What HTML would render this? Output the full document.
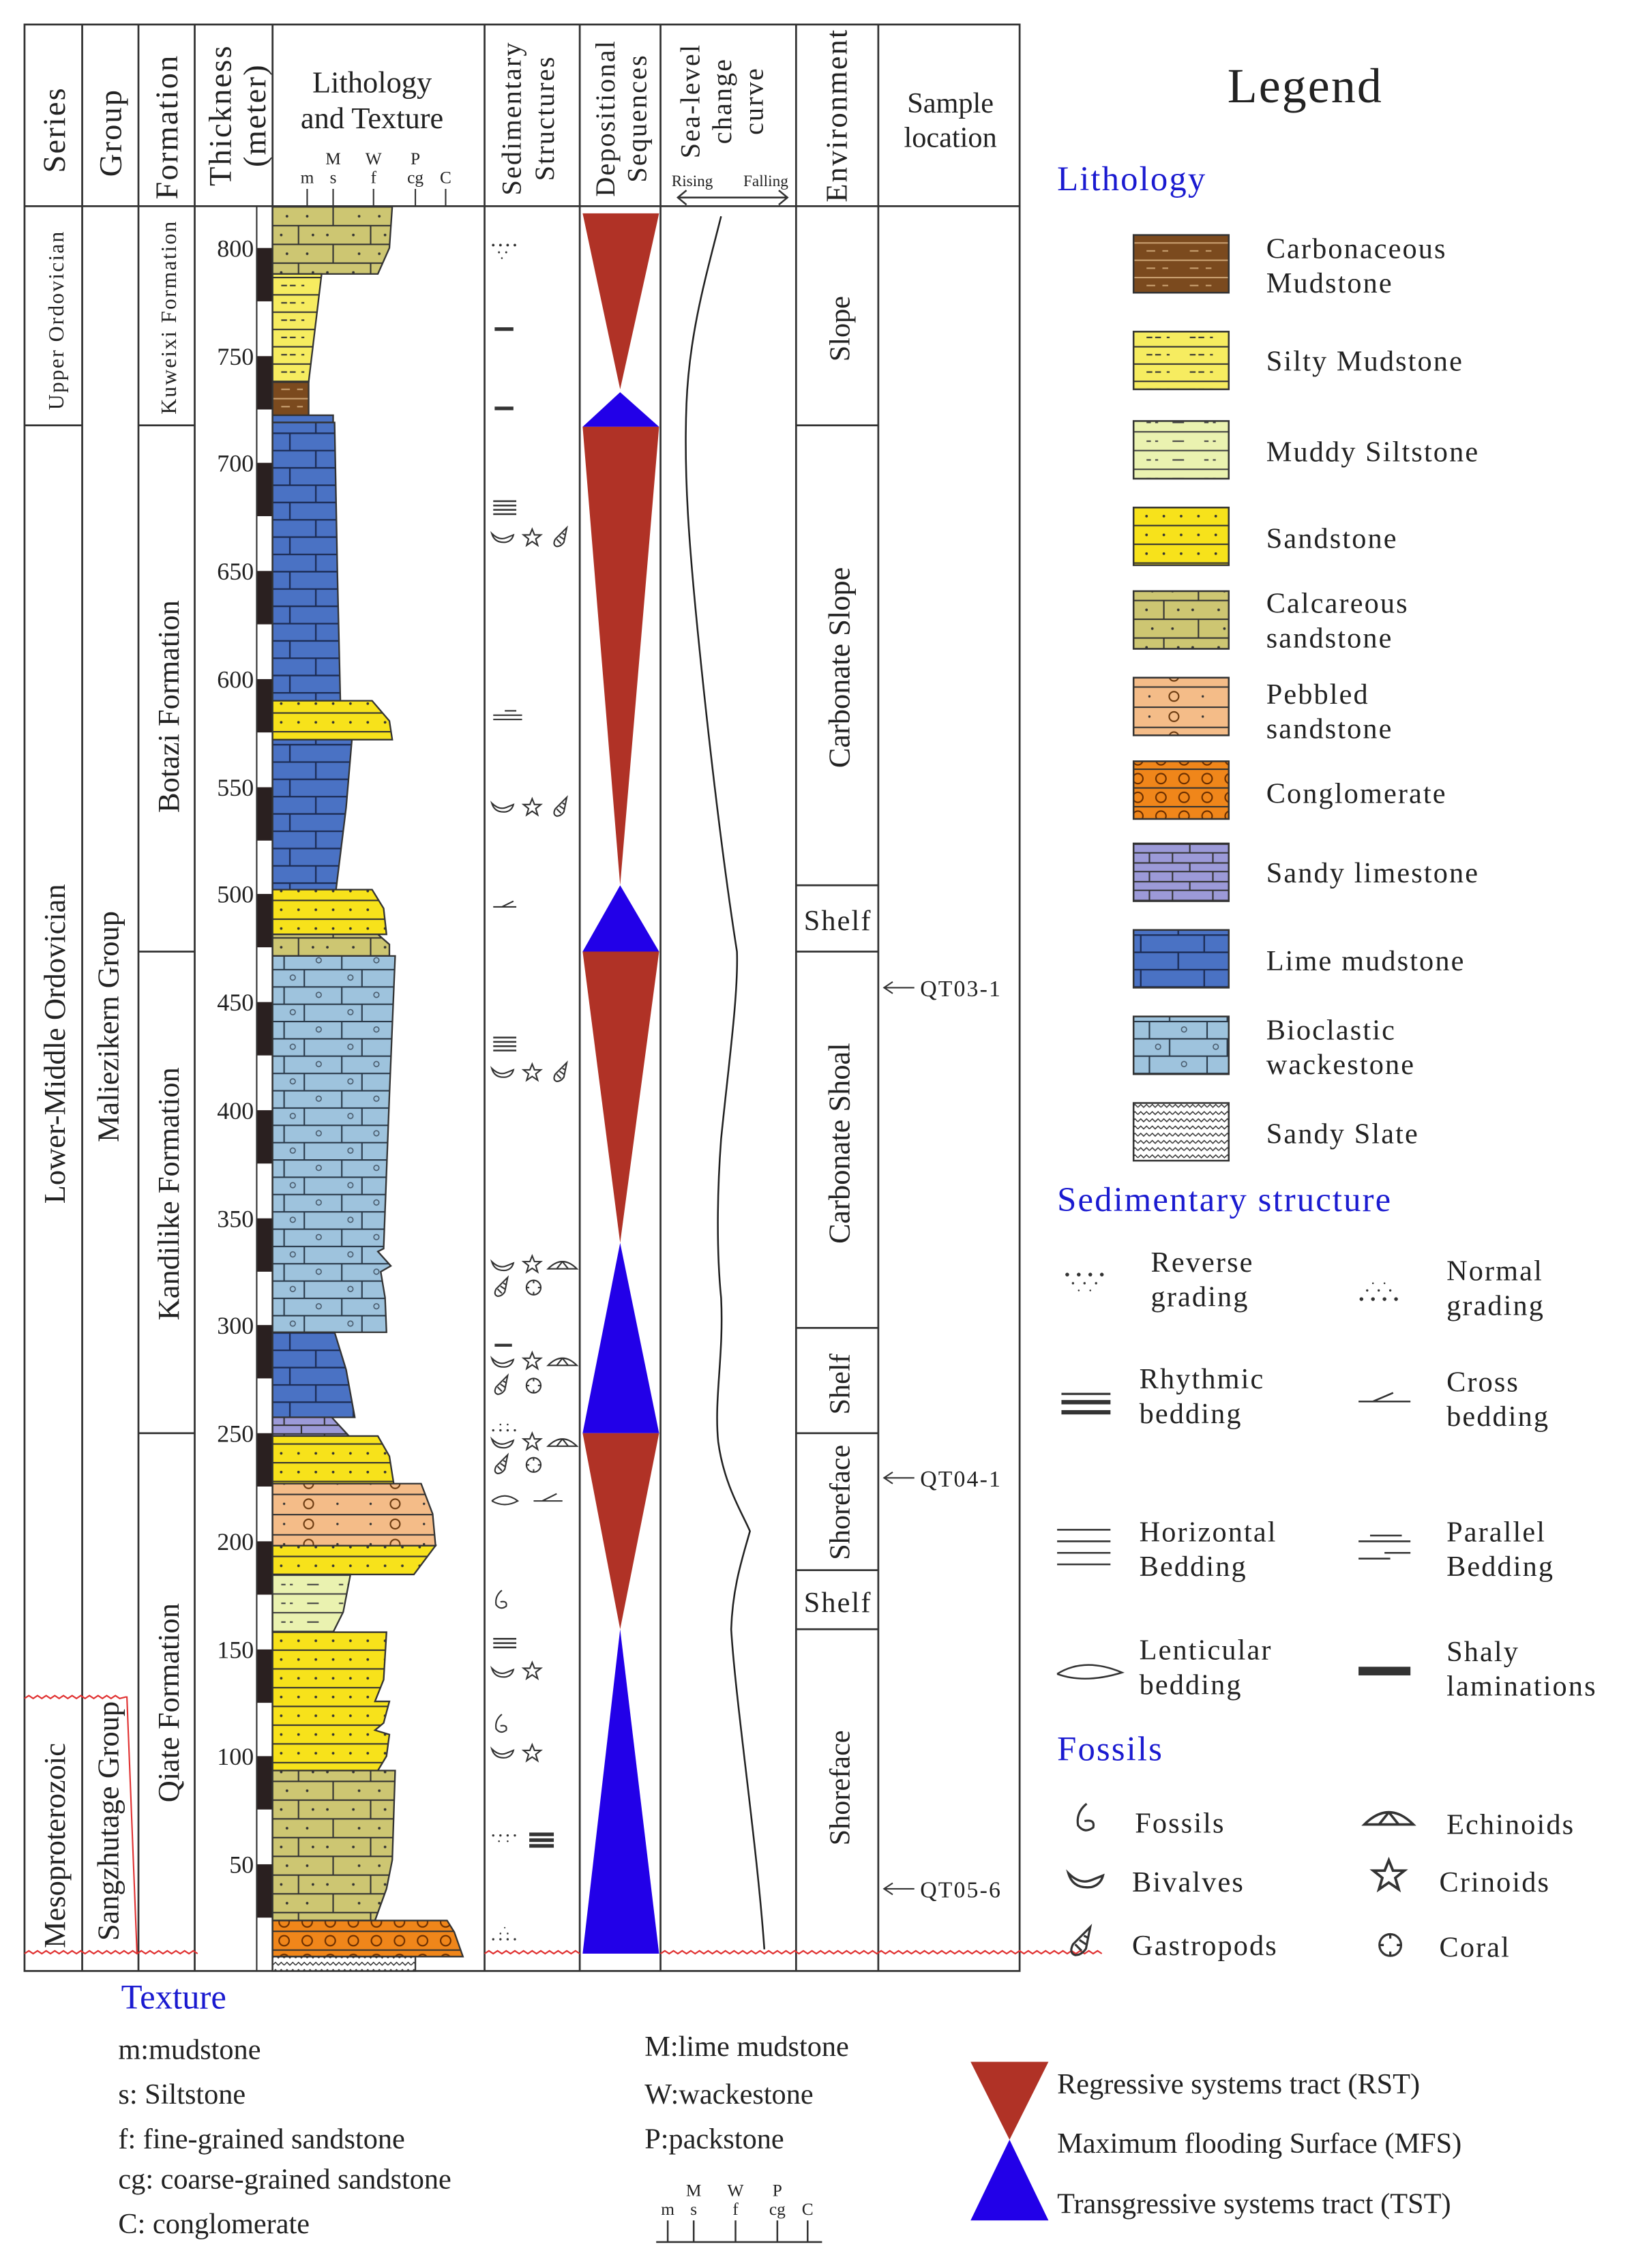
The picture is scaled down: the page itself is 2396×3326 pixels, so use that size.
<!DOCTYPE html>
<html><head><meta charset="utf-8"><style>
html,body{margin:0;padding:0;background:#fff}
svg{display:block}
text{font-family:"Liberation Serif",serif;fill:#222}
</style></head><body>
<svg width="2396" height="3326" viewBox="0 0 1133 1573" preserveAspectRatio="none" xmlns="http://www.w3.org/2000/svg">
<defs>
<pattern id="lm" patternUnits="userSpaceOnUse" x="189" y="0" width="44" height="24"><rect width="44" height="24" fill="#4a72c4"/><path d="M0 0.5H44M0 12.5H44M30 0V12M12 12V24" stroke="#1c2c55" stroke-width="1.1"/></pattern>
<pattern id="bw" patternUnits="userSpaceOnUse" x="189" y="0" width="40" height="24"><rect width="40" height="24" fill="#9ec3dd"/><path d="M0 0.5H40M0 12.5H40M22 0V12M8 12V24" stroke="#2a3a4a" stroke-width="1"/><circle cx="14" cy="6" r="1.8" fill="none" stroke="#456" stroke-width=".7"/><circle cx="32" cy="18" r="1.8" fill="none" stroke="#456" stroke-width=".7"/></pattern>
<pattern id="ss" patternUnits="userSpaceOnUse" x="189" y="0" width="24" height="13"><rect width="24" height="13" fill="#f7e21b"/><path d="M0 0.5H24" stroke="#333" stroke-width="1"/><circle cx="6" cy="7" r=".9" fill="#333"/><circle cx="18" cy="7" r=".9" fill="#333"/></pattern>
<pattern id="cs" patternUnits="userSpaceOnUse" x="189" y="0" width="50" height="26"><rect width="50" height="26" fill="#cdc672"/><path d="M0 0.5H50M0 13.5H50M18 0V13M42 13V26" stroke="#333" stroke-width="1"/><circle cx="6" cy="7" r=".9" fill="#333"/><circle cx="28" cy="7" r=".9" fill="#333"/><circle cx="38" cy="7" r=".9" fill="#333"/><circle cx="10" cy="20" r=".9" fill="#333"/><circle cx="24" cy="20" r=".9" fill="#333"/></pattern>
<pattern id="sm" patternUnits="userSpaceOnUse" x="189" y="0" width="30" height="12"><rect width="30" height="12" fill="#f6ec60"/><path d="M0 0.5H30M6 6H10M12 6H16M20 6H22" stroke="#333" stroke-width="1"/></pattern>
<pattern id="ms" patternUnits="userSpaceOnUse" x="189" y="0" width="40" height="13"><rect width="40" height="13" fill="#eaf2b0"/><path d="M0 0.5H40M6 7H9M12 7H14M24 7H32" stroke="#444" stroke-width="1"/></pattern>
<pattern id="pb" patternUnits="userSpaceOnUse" x="189" y="0" width="60" height="14"><rect width="60" height="14" fill="#f4bc88"/><path d="M0 0.5H60" stroke="#333" stroke-width="1"/><circle cx="25" cy="7" r="3.3" fill="none" stroke="#6a3a10" stroke-width="1"/><circle cx="8" cy="7" r=".8" fill="#333"/><circle cx="45" cy="7" r=".8" fill="#333"/></pattern>
<pattern id="cg" patternUnits="userSpaceOnUse" x="189" y="0" width="16" height="13"><rect width="16" height="13" fill="#f0861a"/><path d="M0 0.5H16" stroke="#333" stroke-width="1"/><circle cx="8" cy="7" r="3.5" fill="none" stroke="#6a2e00" stroke-width="1"/></pattern>
<pattern id="sl" patternUnits="userSpaceOnUse" x="189" y="0" width="44" height="13"><rect width="44" height="13" fill="#9c9ad8"/><path d="M0 0.5H44M0 6.5H44M20 0V6M8 6V13M36 6V13" stroke="#333" stroke-width="1"/></pattern>
<pattern id="cm" patternUnits="userSpaceOnUse" x="189" y="0" width="30" height="12"><rect width="30" height="12" fill="#7b4a1e"/><path d="M0 0.5H30M6 6H12M17 6H21" stroke="#c9a070" stroke-width="1"/></pattern>
<pattern id="sy" patternUnits="userSpaceOnUse" x="189" y="0" width="8" height="5"><rect width="8" height="5" fill="#fff"/><path d="M0 3L2 1L4 3L6 1L8 3" fill="none" stroke="#333" stroke-width=".7"/></pattern>
<g id="biv"><path d="M-7 -3Q-5 4 3 3Q7 2 8 -2L3 0Q-2 2 -7 -3Z" fill="none" stroke="#333" stroke-width="1"/></g>
<g id="star"><path d="M0 -6L1.6 -2L6 -2L2.5 0.8L3.8 5.2L0 2.6L-3.8 5.2L-2.5 0.8L-6 -2L-1.6 -2Z" fill="none" stroke="#333" stroke-width="1"/></g>
<g id="gas"><path d="M4 -7L-4 1Q-6 5 -3 6Q0 6 2 3Z M-3 1L0 4 M-1 -1L2 1 M1 -3L3 -2" fill="none" stroke="#333" stroke-width="1"/></g>
<g id="cor"><circle r="5" fill="none" stroke="#333" stroke-width="1"/><path d="M0 -5V-3M0 5V3M-5 0H-3M5 0H3" stroke="#333"/></g>
<g id="ech"><path d="M-10 2Q0 -8 10 2Z M0 -3L-4 2M0 -3L4 2" fill="none" stroke="#333" stroke-width="1"/></g>
<g id="fos"><path d="M1 -8Q-4 -4 -3 2Q0 6 4 3Q5 -1 0 0" fill="none" stroke="#333" stroke-width="1"/></g>
</defs>

<g stroke="#333" stroke-width="1.3" fill="none">
<rect x="17" y="17" width="690" height="1350"/>
<line x1="17" y1="143" x2="707" y2="143"/>
<line x1="57" y1="17" x2="57" y2="1367"/>
<line x1="96" y1="17" x2="96" y2="1367"/>
<line x1="135" y1="17" x2="135" y2="1367"/>
<line x1="189" y1="17" x2="189" y2="1367"/>
<line x1="336" y1="17" x2="336" y2="1367"/>
<line x1="402" y1="17" x2="402" y2="1367"/>
<line x1="458" y1="17" x2="458" y2="1367"/>
<line x1="552" y1="17" x2="552" y2="1367"/>
<line x1="609" y1="17" x2="609" y2="1367"/>
<line x1="17" y1="295" x2="57" y2="295"/>
<line x1="96" y1="295" x2="135" y2="295"/>
<line x1="96" y1="660" x2="135" y2="660"/>
<line x1="96" y1="994" x2="135" y2="994"/>
<line x1="552" y1="295" x2="609" y2="295"/>
<line x1="552" y1="614" x2="609" y2="614"/>
<line x1="552" y1="660" x2="609" y2="660"/>
<line x1="552" y1="921" x2="609" y2="921"/>
<line x1="552" y1="994" x2="609" y2="994"/>
<line x1="552" y1="1089" x2="609" y2="1089"/>
<line x1="552" y1="1130" x2="609" y2="1130"/>
</g>

<g font-size="22" text-anchor="middle">
<text transform="translate(45,90) rotate(-90)" letter-spacing="1">Series</text>
<text transform="translate(84,92) rotate(-90)" letter-spacing="1">Group</text>
<text transform="translate(123,88) rotate(-90)" letter-spacing="1">Formation</text>
<text transform="translate(160,80) rotate(-90)" letter-spacing="1">Thickness</text>
<text transform="translate(184,80) rotate(-90)" letter-spacing="1">(meter)</text>
<text x="258" y="64" font-size="21">Lithology</text>
<text x="258" y="89" font-size="21">and Texture</text>
<text transform="translate(361,82) rotate(-90)" font-size="19" letter-spacing="1">Sedimentary</text>
<text transform="translate(384,82) rotate(-90)" font-size="19" letter-spacing="1">Structures</text>
<text transform="translate(426,82) rotate(-90)" font-size="19" letter-spacing="1">Depositional</text>
<text transform="translate(448,82) rotate(-90)" font-size="19" letter-spacing="1">Sequences</text>
<text transform="translate(485,70) rotate(-90)" font-size="19" letter-spacing="1">Sea-level</text>
<text transform="translate(507,70) rotate(-90)" font-size="19" letter-spacing="1">change</text>
<text transform="translate(529,70) rotate(-90)" font-size="19" letter-spacing="1">curve</text>
<text transform="translate(587,80) rotate(-90)" font-size="21" letter-spacing="1">Environment</text>
<text x="659" y="78" font-size="20">Sample</text>
<text x="659" y="102" font-size="20">location</text>
</g>
<g font-size="12" text-anchor="middle">
<text x="213" y="127">m</text><text x="231" y="114">M</text><text x="231" y="127">s</text>
<text x="259" y="114">W</text><text x="259" y="127">f</text>
<text x="288" y="114">P</text><text x="288" y="127">cg</text><text x="309" y="127">C</text>
<text x="480" y="129" font-size="11">Rising</text><text x="531" y="129" font-size="11">Falling</text>
</g>
<path d="M213 131V143M231 131V143M259 131V143M288 131V143M309 131V143" stroke="#333"/>
<path d="M470 137H546M476 132L470 137L476 142M540 132L546 137L540 142" stroke="#333" fill="none" stroke-width="1.2"/>

<g font-size="20" text-anchor="middle">
<text transform="translate(44,222) rotate(-90)" font-size="15" letter-spacing="1">Upper Ordovician</text>
<text transform="translate(45,724) rotate(-90)" font-size="21">Lower-Middle Ordovician</text>
<text transform="translate(45,1280) rotate(-90)" font-size="21">Mesoproterozoic</text>
<text transform="translate(82,712) rotate(-90)" font-size="21">Maliezikern Group</text>
<text transform="translate(82,1263) rotate(-90)" font-size="21">Sangzhutage Group</text>
<text transform="translate(122,220) rotate(-90)" font-size="15" letter-spacing="1">Kuweixi Formation</text>
<text transform="translate(124,490) rotate(-90)" font-size="21">Botazi Formation</text>
<text transform="translate(124,828) rotate(-90)" font-size="21">Kandilike Formation</text>
<text transform="translate(124,1181) rotate(-90)" font-size="21">Qiate Formation</text>
<text transform="translate(589,228) rotate(-90)">Slope</text>
<text transform="translate(589,463) rotate(-90)" font-size="21">Carbonate Slope</text>
<text x="581" y="645" font-size="20" letter-spacing="1">Shelf</text>
<text transform="translate(589,793) rotate(-90)" font-size="21">Carbonate Shoal</text>
<text transform="translate(589,960) rotate(-90)">Shelf</text>
<text transform="translate(589,1042) rotate(-90)">Shoreface</text>
<text x="581" y="1118" font-size="20" letter-spacing="1">Shelf</text>
<text transform="translate(589,1240) rotate(-90)">Shoreface</text>
</g>

<g fill="#2a2020">
<rect x="178" y="172" width="11" height="37"/><rect x="178" y="247" width="11" height="37"/>
<rect x="178" y="321" width="11" height="37"/><rect x="178" y="396" width="11" height="37"/>
<rect x="178" y="471" width="11" height="37"/><rect x="178" y="546" width="11" height="37"/>
<rect x="178" y="620" width="11" height="37"/><rect x="178" y="695" width="11" height="37"/>
<rect x="178" y="770" width="11" height="37"/><rect x="178" y="845" width="11" height="37"/>
<rect x="178" y="919" width="11" height="37"/><rect x="178" y="994" width="11" height="37"/>
<rect x="178" y="1069" width="11" height="37"/><rect x="178" y="1144" width="11" height="37"/>
<rect x="178" y="1218" width="11" height="37"/><rect x="178" y="1293" width="11" height="37"/>
</g>
<line x1="178" y1="143" x2="178" y2="1367" stroke="#333"/>
<g font-size="17" text-anchor="end">
<text x="176" y="178">800</text><text x="176" y="253">750</text><text x="176" y="327">700</text>
<text x="176" y="402">650</text><text x="176" y="477">600</text><text x="176" y="552">550</text>
<text x="176" y="626">500</text><text x="176" y="701">450</text><text x="176" y="776">400</text>
<text x="176" y="851">350</text><text x="176" y="925">300</text><text x="176" y="1000">250</text>
<text x="176" y="1075">200</text><text x="176" y="1150">150</text><text x="176" y="1224">100</text>
<text x="176" y="1299">50</text>
</g>

<g stroke="#333" stroke-width="1.1">
<polygon points="189,143 272,143 270,172 262,190 189,190" fill="url(#cs)"/>
<polygon points="189,190 223,190 214,265 189,265" fill="url(#sm)"/>
<polygon points="189,265 214,265 214,289 189,289" fill="url(#cm)"/>
<polygon points="189,288 231,288 231,293 189,293" fill="#4a72c4"/>
<polygon points="189,293 232,293 234,400 236,486 189,486" fill="url(#lm)"/>
<polygon points="189,486 258,486 270,500 272,513 189,513" fill="url(#ss)"/>
<polygon points="189,513 244,513 240,560 233,617 189,617" fill="url(#lm)"/>
<polygon points="189,617 258,617 266,630 268,648 189,648" fill="url(#ss)"/>
<polygon points="189,648 262,648 270,655 270,663 189,663" fill="url(#cs)"/>
<polygon points="189,663 274,663 270,760 266,866 262,868 271,878 264,882 267,900 268,924 189,924" fill="url(#bw)"/>
<polygon points="189,924 232,924 240,950 246,983 189,983" fill="url(#lm)"/>
<polygon points="189,983 230,983 242,996 189,996" fill="url(#sl)"/>
<polygon points="189,996 262,996 270,1010 273,1029 189,1029" fill="url(#ss)"/>
<polygon points="189,1029 292,1029 300,1050 302,1072 189,1072" fill="url(#pb)"/>
<polygon points="189,1072 302,1072 287,1092 189,1092" fill="url(#ss)"/>
<polygon points="189,1092 243,1092 238,1118 231,1132 189,1132" fill="url(#ms)"/>
<polygon points="189,1132 268,1132 266,1165 260,1180 270,1180 266,1195 260,1200 270,1203 268,1218 262,1228 189,1228" fill="url(#ss)"/>
<polygon points="189,1228 274,1228 272,1290 268,1310 260,1332 189,1332" fill="url(#cs)"/>
<polygon points="189,1332 310,1332 315,1340 321,1357 189,1357" fill="url(#cg)"/>
<polygon points="189,1357 288,1357 288,1367 189,1367" fill="url(#sy)"/>
</g>

<g fill="#333">
<circle cx="342" cy="170" r=".9"/><circle cx="347" cy="170" r=".9"/><circle cx="352" cy="170" r=".9"/><circle cx="357" cy="170" r=".9"/>
<circle cx="346" cy="175" r=".7"/><circle cx="351" cy="175" r=".7"/><circle cx="348" cy="179" r=".6"/>
<rect x="343" y="227" width="13" height="2.5"/><rect x="343" y="282" width="13" height="2.5"/>
<rect x="342" y="347" width="16" height="1.2"/><rect x="342" y="350" width="16" height="1.2"/><rect x="342" y="353" width="16" height="1.2"/><rect x="342" y="356" width="16" height="1.2"/>
<rect x="342" y="719" width="16" height="1.2"/><rect x="342" y="722" width="16" height="1.2"/><rect x="342" y="725" width="16" height="1.2"/><rect x="342" y="728" width="16" height="1.2"/>
<rect x="342" y="1136" width="16" height="1.2"/><rect x="342" y="1139" width="16" height="1.2"/><rect x="342" y="1142" width="16" height="1.2"/>
<rect x="343" y="932" width="12" height="2"/>
<rect x="367" y="1271" width="17" height="2.5"/><rect x="367" y="1275" width="17" height="2.5"/><rect x="367" y="1279" width="17" height="2.5"/>
<circle cx="342" cy="1273" r=".8"/><circle cx="347" cy="1273" r=".8"/><circle cx="352" cy="1273" r=".8"/><circle cx="357" cy="1273" r=".8"/><circle cx="346" cy="1277" r=".6"/><circle cx="352" cy="1277" r=".6"/>
<circle cx="342" cy="1345" r=".8"/><circle cx="347" cy="1345" r=".8"/><circle cx="352" cy="1345" r=".8"/><circle cx="357" cy="1345" r=".8"/><circle cx="347" cy="1341" r=".6"/><circle cx="352" cy="1341" r=".6"/><circle cx="350" cy="1337" r=".5"/>
<circle cx="342" cy="992" r=".8"/><circle cx="347" cy="992" r=".8"/><circle cx="352" cy="992" r=".8"/><circle cx="357" cy="992" r=".8"/><circle cx="347" cy="988" r=".6"/><circle cx="352" cy="988" r=".6"/>
</g>
<g stroke="#333" fill="none" stroke-width="1">
<path d="M342 496H362M342 499H362M350 493H358"/>
<path d="M342 629H358M348 629L356 625"/>
<path d="M341 1041Q350 1034 359 1041Q350 1046 341 1041"/>
<path d="M370 1041H390M376 1041L386 1036"/>
</g>
<use href="#biv" x="348" y="373"/><use href="#star" x="369" y="373"/><use href="#gas" x="389" y="373"/>
<use href="#biv" x="348" y="560"/><use href="#star" x="369" y="560"/><use href="#gas" x="389" y="560"/>
<use href="#biv" x="348" y="744"/><use href="#star" x="369" y="744"/><use href="#gas" x="389" y="744"/>
<use href="#biv" x="348" y="878"/><use href="#star" x="369" y="877"/><use href="#ech" x="390" y="878"/><use href="#gas" x="348" y="893"/><use href="#cor" x="370" y="893"/>
<use href="#biv" x="348" y="945"/><use href="#star" x="369" y="944"/><use href="#ech" x="390" y="945"/><use href="#gas" x="348" y="961"/><use href="#cor" x="370" y="961"/>
<use href="#biv" x="348" y="1001"/><use href="#star" x="369" y="1000"/><use href="#ech" x="390" y="1001"/><use href="#gas" x="348" y="1016"/><use href="#cor" x="370" y="1016"/>
<use href="#fos" x="347" y="1111"/>
<use href="#biv" x="348" y="1160"/><use href="#star" x="369" y="1159"/>
<use href="#fos" x="347" y="1197"/>
<use href="#biv" x="348" y="1216"/><use href="#star" x="369" y="1216"/>

<g>
<polygon points="404,148 457,148 430,270" fill="#b03226"/>
<polygon points="430,272 457,296 404,296" fill="#2200e8"/>
<polygon points="404,296 457,296 430,614" fill="#b03226"/>
<polygon points="430,614 457,660 404,660" fill="#2200e8"/>
<polygon points="404,660 457,660 430,862" fill="#b03226"/>
<polygon points="430,862 457,994 404,994" fill="#2200e8"/>
<polygon points="404,994 457,994 430,1130" fill="#b03226"/>
<polygon points="430,1130 457,1355 404,1355" fill="#2200e8"/>
</g>

<path d="M500 150C490 190 478 230 476 280C474 330 478 380 484 440C490 500 500 590 511 660C512 690 505 740 500 790C497 830 497 870 500 900C502 940 495 970 498 1000C502 1030 515 1050 520 1062C515 1080 508 1100 507 1130C510 1180 525 1280 530 1352" fill="none" stroke="#222" stroke-width="1.2"/>

<path d="M17 1355 l3 -2 l3 2 l3 -2 l3 2 l3 -2 l3 2 l3 -2 l3 2 l3 -2 l3 2 l3 -2 l3 2 l3 -2 l3 2 l3 -2 l3 2 l3 -2 l3 2 l3 -2 l3 2 l3 -2 l3 2 l3 -2 l3 2 l3 -2 l3 2 l3 -2 l3 2 l3 -2 l3 2 l3 -2 l3 2 l3 -2 l3 2 l3 -2 l3 2 l3 -2 l3 2 l3 -2 l3 2" fill="none" stroke="#e03030" stroke-width="1"/>
<path d="M336 1355 l3 -2 l3 2 l3 -2 l3 2 l3 -2 l3 2 l3 -2 l3 2 l3 -2 l3 2 l3 -2 l3 2 l3 -2 l3 2 l3 -2 l3 2 l3 -2 l3 2 l3 -2 l3 2 l3 -2 l3 2 M458 1355 l3 -2 l3 2 l3 -2 l3 2 l3 -2 l3 2 l3 -2 l3 2 l3 -2 l3 2 l3 -2 l3 2 l3 -2 l3 2 l3 -2 l3 2 l3 -2 l3 2 l3 -2 l3 2 l3 -2 l3 2 l3 -2 l3 2 l3 -2 l3 2 l3 -2 l3 2 l3 -2 l3 2 l3 -2 l3 2 l3 -2 l3 2 l3 -2 l3 2 l3 -2 l3 2 l3 -2 l3 2 l3 -2 l3 2 l3 -2 l3 2 l3 -2 l3 2 l3 -2 l3 2 l3 -2 l3 2 l3 -2 l3 2 l3 -2 l3 2 l3 -2 l3 2 l3 -2 l3 2 l3 -2 l3 2 l3 -2 l3 2 l3 -2 l3 2 l3 -2 l3 2 l3 -2 l3 2 l3 -2 l3 2 l3 -2 l3 2 l3 -2 l3 2 l3 -2 l3 2 l3 -2 l3 2 l3 -2 l3 2 l3 -2 l3 2 l3 -2 l3 2 l3 -2 l3 2 l3 -2 l3 2 l3 -2 l3 2 l3 -2 l3 2 l3 -2 l3 2 l3 -2 l3 2 l3 -2 l3 2 l3 -2 l3 2 l3 -2 l3 2" fill="none" stroke="#e03030" stroke-width="1"/>
<path d="M17 1178 l3 -2 l3 2 l3 -2 l3 2 l3 -2 l3 2 l3 -2 l3 2 l3 -2 l3 2 l3 -2 l3 2 l3 -2 l3 2 l3 -2 l3 2 l3 -2 l3 2 l3 -2 l3 2 l3 -2 l3 2 l4 -1 L88 1177 L95 1355" fill="none" stroke="#e03030" stroke-width="1"/>

<g font-size="16" letter-spacing="1">
<path d="M613 685H634M619 681L613 685L619 689" stroke="#333" fill="none"/><text x="638" y="691">QT03-1</text>
<path d="M613 1025H634M619 1021L613 1025L619 1029" stroke="#333" fill="none"/><text x="638" y="1031">QT04-1</text>
<path d="M613 1310H634M619 1306L613 1310L619 1314" stroke="#333" fill="none"/><text x="638" y="1316">QT05-6</text>
</g>

<text x="905" y="71" font-size="34" text-anchor="middle" letter-spacing="1">Legend</text>
<text x="733" y="132" font-size="24" style="fill:#1a1ad0" letter-spacing="1">Lithology</text>
<g stroke="#333" stroke-width="1.2">
<rect x="786" y="163" width="66" height="40" fill="url(#cm)"/>
<rect x="786" y="230" width="66" height="40" fill="url(#sm)"/>
<rect x="786" y="292" width="66" height="40" fill="url(#ms)"/>
<rect x="786" y="352" width="66" height="40" fill="url(#ss)"/>
<rect x="786" y="410" width="66" height="40" fill="url(#cs)"/>
<rect x="786" y="470" width="66" height="40" fill="url(#pb)"/>
<rect x="786" y="528" width="66" height="40" fill="url(#cg)"/>
<rect x="786" y="585" width="66" height="40" fill="url(#sl)"/>
<rect x="786" y="645" width="66" height="40" fill="url(#lm)"/>
<rect x="786" y="705" width="66" height="40" fill="url(#bw)"/>
<rect x="786" y="765" width="66" height="40" fill="url(#sy)"/>
</g>
<g font-size="20" letter-spacing="1">
<text x="878" y="179">Carbonaceous</text><text x="878" y="203">Mudstone</text>
<text x="878" y="257">Silty Mudstone</text>
<text x="878" y="320">Muddy Siltstone</text>
<text x="878" y="380">Sandstone</text>
<text x="878" y="425">Calcareous</text><text x="878" y="449">sandstone</text>
<text x="878" y="488">Pebbled</text><text x="878" y="512">sandstone</text>
<text x="878" y="557">Conglomerate</text>
<text x="878" y="612">Sandy limestone</text>
<text x="878" y="673">Lime mudstone</text>
<text x="878" y="721">Bioclastic</text><text x="878" y="745">wackestone</text>
<text x="878" y="793">Sandy Slate</text>
</g>
<text x="733" y="840" font-size="24" style="fill:#1a1ad0" letter-spacing="1">Sedimentary structure</text>
<g font-size="20" letter-spacing="1">
<text x="798" y="882">Reverse</text><text x="798" y="906">grading</text>
<text x="1003" y="888">Normal</text><text x="1003" y="912">grading</text>
<text x="790" y="963">Rhythmic</text><text x="790" y="987">bedding</text>
<text x="1003" y="965">Cross</text><text x="1003" y="989">bedding</text>
<text x="790" y="1069">Horizontal</text><text x="790" y="1093">Bedding</text>
<text x="1003" y="1069">Parallel</text><text x="1003" y="1093">Bedding</text>
<text x="790" y="1151">Lenticular</text><text x="790" y="1175">bedding</text>
<text x="1003" y="1152">Shaly</text><text x="1003" y="1176">laminations</text>
</g>
<g fill="#333">
<circle cx="740" cy="884" r="1.3"/><circle cx="748" cy="884" r="1.3"/><circle cx="756" cy="884" r="1.3"/><circle cx="764" cy="884" r="1.3"/>
<circle cx="744" cy="890" r=".8"/><circle cx="752" cy="890" r=".8"/><circle cx="760" cy="890" r=".8"/><circle cx="748" cy="895" r=".6"/><circle cx="756" cy="895" r=".6"/>
<circle cx="944" cy="901" r="1.3"/><circle cx="952" cy="901" r="1.3"/><circle cx="960" cy="901" r="1.3"/><circle cx="968" cy="901" r="1.3"/>
<circle cx="948" cy="895" r=".8"/><circle cx="956" cy="895" r=".8"/><circle cx="964" cy="895" r=".8"/><circle cx="952" cy="890" r=".6"/><circle cx="960" cy="890" r=".6"/>
<rect x="736" y="966" width="34" height="1.5"/><rect x="736" y="971" width="34" height="3"/><rect x="736" y="978" width="34" height="3"/>
<rect x="942" y="1156" width="36" height="6"/>
</g>
<g stroke="#333" fill="none" stroke-width="1.2">
<path d="M942 972H978M952 972L966 966"/>
<path d="M733 1061H770M733 1069H770M733 1077H770M733 1085H770"/>
<path d="M942 1069H978M950 1065H972M960 1077H978M942 1081H964"/>
<path d="M733 1161Q752 1149 778 1160Q752 1168 733 1161"/>
</g>
<text x="733" y="1221" font-size="24" style="fill:#1a1ad0" letter-spacing="1">Fossils</text>
<g font-size="20" letter-spacing="1">
<text x="787" y="1271">Fossils</text><text x="1003" y="1272">Echinoids</text>
<text x="785" y="1312">Bivalves</text><text x="998" y="1312">Crinoids</text>
<text x="785" y="1356">Gastropods</text><text x="998" y="1357">Coral</text>
</g>
<g transform="translate(752,1263) scale(1.5)"><use href="#fos"/></g>
<g transform="translate(963,1262) scale(1.7)"><use href="#ech"/></g>
<g transform="translate(752,1304) scale(1.6)"><use href="#biv"/></g>
<g transform="translate(963,1301) scale(1.8)"><use href="#star"/></g>
<g transform="translate(750,1347) scale(1.5)"><use href="#gas"/></g>
<g transform="translate(964,1349) scale(1.5)"><use href="#cor"/></g>

<text x="84" y="1393" font-size="24" style="fill:#1a1ad0">Texture</text>
<g font-size="20">
<text x="82" y="1428">m:mudstone</text>
<text x="82" y="1459">s: Siltstone</text>
<text x="82" y="1490">f: fine-grained sandstone</text>
<text x="82" y="1518">cg: coarse-grained sandstone</text>
<text x="82" y="1549">C: conglomerate</text>
<text x="447" y="1426">M:lime mudstone</text>
<text x="447" y="1459">W:wackestone</text>
<text x="447" y="1490">P:packstone</text>
</g>
<g font-size="12" text-anchor="middle">
<text x="463" y="1536">m</text><text x="481" y="1523">M</text><text x="481" y="1536">s</text>
<text x="510" y="1523">W</text><text x="510" y="1536">f</text>
<text x="539" y="1523">P</text><text x="539" y="1536">cg</text><text x="560" y="1536">C</text>
</g>
<path d="M463 1540V1555M481 1540V1555M510 1540V1555M539 1540V1555M560 1540V1555M455 1555H570" stroke="#333" stroke-width="1.2" fill="none"/>

<polygon points="673,1430 727,1430 700,1484" fill="#b03226"/>
<polygon points="700,1484 727,1540 673,1540" fill="#2200e8"/>
<g font-size="20">
<text x="733" y="1452">Regressive systems tract (RST)</text>
<text x="733" y="1493">Maximum flooding Surface (MFS)</text>
<text x="733" y="1535">Transgressive systems tract (TST)</text>
</g>
</svg>
</body></html>
